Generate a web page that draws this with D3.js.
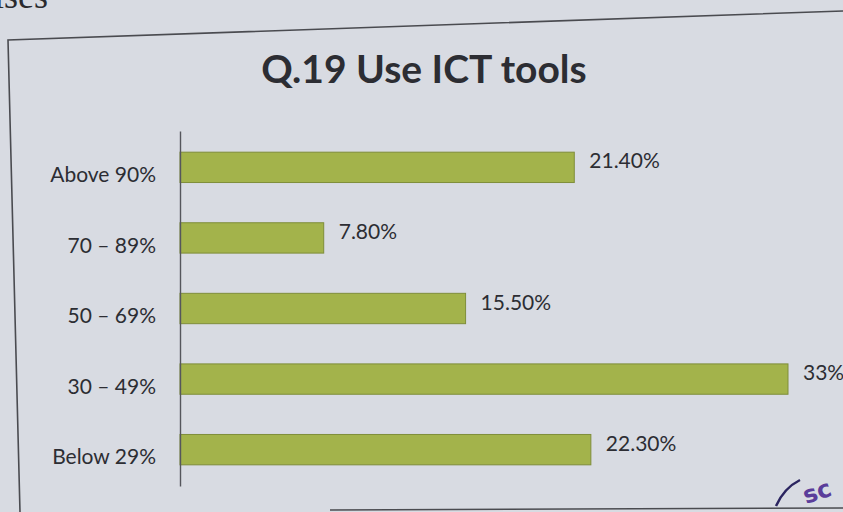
<!DOCTYPE html>
<html>
<head>
<meta charset="utf-8">
<script src="https://cdn.jsdelivr.net/npm/d3@7/dist/d3.min.js"></script>
<style>
  html, body { margin: 0; padding: 0; background: #d8dbe2; }
  svg { display: block; }
</style>
</head>
<body>
<svg id="chart" width="843" height="512"></svg>
<script>
// Categories (top to bottom) and their shares in percent
const categories = ["Above 90%", "70 – 89%", "50 – 69%", "30 – 49%", "Below 29%"];
const values = [21.4, 7.8, 15.5, 33, 22.3];
const valueLabels = ["21.40%", "7.80%", "15.50%", "33%", "22.30%"];
const title = "Q.19 Use ICT tools";

const W = 843, H = 512;
const svg = d3.select("#chart");

// page background and the framed chart area
svg.append("rect").attr("width", W).attr("height", H).attr("fill", "#d8dbe2");
svg.append("path")
  .attr("d", "M20,512 L8,40 L843,11")
  .attr("fill", "none").attr("stroke", "#4a4b50").attr("stroke-width", 1.6);
svg.append("line")
  .attr("x1", 330).attr("x2", 843).attr("y1", 510).attr("y2", 508)
  .attr("stroke", "#4a4b50").attr("stroke-width", 1.6);

// fragment of the page text above the frame
svg.append("text")
  .attr("x", -6).attr("y", 8)
  .attr("font-family", "Liberation Serif, serif")
  .attr("font-size", 36).attr("fill", "#2a2a2e")
  .text("ises");

// handwritten mark in the lower right corner
svg.append("path")
  .attr("d", "M776,506 Q784,488 800,480")
  .attr("fill", "none").attr("stroke", "#2b2560").attr("stroke-width", 2.5);
svg.append("text")
  .attr("x", 806).attr("y", 504)
  .attr("font-family", "DejaVu Sans, sans-serif")
  .attr("font-weight", "bold")
  .attr("font-size", 24).attr("fill", "#5a3d9a")
  .attr("transform", "rotate(-18,806,504)")
  .text("sc");

const margin = { left: 180, top: 131, bottom: 486 };
const x = d3.scaleLinear().domain([0, 33]).range([margin.left, margin.left + 608]);
const y = d3.scaleBand().domain(categories).range([margin.top, margin.bottom]).paddingInner(0.57).paddingOuter(0.3);

// title
svg.append("text")
  .attr("x", 424).attr("y", 83)
  .attr("text-anchor", "middle")
  .attr("font-family", "Lato, 'Open Sans', sans-serif")
  .attr("font-weight", "bold")
  .attr("font-size", 39)
  .attr("fill", "#2c2d33")
  .text(title);

// bars
svg.selectAll("rect.bar")
  .data(values)
  .join("rect")
  .attr("class", "bar")
  .attr("x", x(0))
  .attr("y", (d, i) => y(categories[i]))
  .attr("width", d => x(d) - x(0))
  .attr("height", y.bandwidth())
  .attr("fill", "#a3b34b")
  .attr("stroke", "#7f8e3a")
  .attr("stroke-width", 1);

// category axis
const axis = d3.axisLeft(y).tickSize(0).tickPadding(24);
const g = svg.append("g").attr("transform", `translate(${x(0)},0)`).call(axis);
g.select(".domain").attr("stroke", "#55565c").attr("stroke-width", 1.4);
g.selectAll(".tick text")
  .attr("font-family", "Lato, 'Open Sans', sans-serif")
  .attr("font-size", 21)
  .attr("fill", "#2c2d33")
  .attr("dy", "0.7em");

// value labels
svg.selectAll("text.val")
  .data(values)
  .join("text")
  .attr("class", "val")
  .attr("x", d => x(d) + 15)
  .attr("y", (d, i) => y(categories[i]) + y.bandwidth() / 2)
  .attr("dy", "0.05em")
  .attr("font-family", "Lato, 'Open Sans', sans-serif")
  .attr("font-size", 21)
  .attr("fill", "#2c2d33")
  .text((d, i) => valueLabels[i]);
</script>
</body>
</html>
